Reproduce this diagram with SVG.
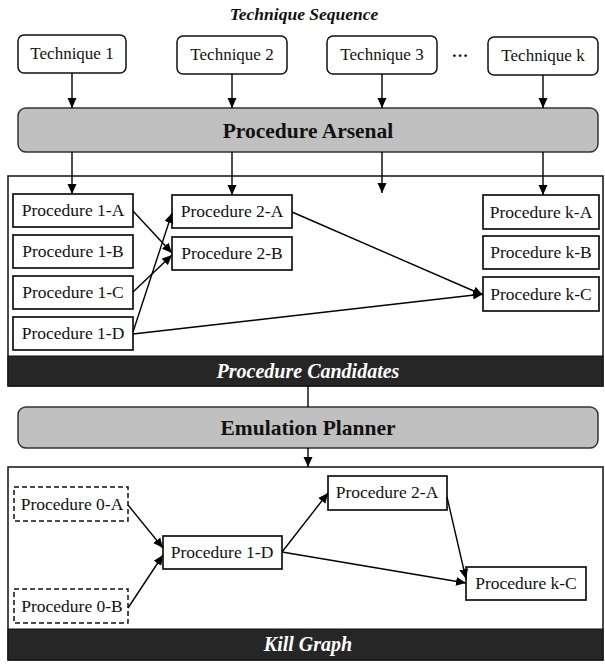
<svg xmlns="http://www.w3.org/2000/svg" width="605" height="665" viewBox="0 0 605 665">
<style>
text{font-family:"Liberation Serif","Times New Roman",serif;fill:#111;}
.lbl{font-size:17px;text-anchor:middle;}
.plbl{font-size:17.5px;text-anchor:middle;}
.big{font-size:21.5px;font-weight:bold;text-anchor:middle;}
.band{font-size:20px;font-weight:bold;font-style:italic;text-anchor:middle;fill:#fff;}
.title{font-size:17.5px;font-weight:bold;font-style:italic;text-anchor:middle;}
.tech{fill:#fff;stroke:#111;stroke-width:1.5;}
.proc{fill:#fff;stroke:#111;stroke-width:1.7;}
.dash{fill:#fff;stroke:#111;stroke-width:1.5;stroke-dasharray:5,3;}
.gray{fill:#c0c0c0;stroke:#333;stroke-width:1.5;}
.cont{fill:#fff;stroke:#111;stroke-width:1.5;}
.dark{fill:#262626;stroke:#111;stroke-width:1;}
.edge{fill:none;stroke:#000;stroke-width:1.4;}
.arr{marker-end:url(#ah);}
</style>
<defs>
<marker id="ah" markerUnits="userSpaceOnUse" markerWidth="10" markerHeight="10" viewBox="0 0 10 10" refX="10" refY="5" orient="auto">
<path d="M0,0.5 L10,5 L0,9.5 z" fill="#000"/>
</marker>
</defs>
<text class="title" x="304" y="20">Technique Sequence</text>

<g id="tech1"><rect class="tech" x="18" y="35" width="108" height="38" rx="6"/><text class="lbl" x="72" y="59">Technique 1</text></g>
<g id="tech2"><rect class="tech" x="177" y="36" width="110" height="38" rx="6"/><text class="lbl" x="232" y="60">Technique 2</text></g>
<g id="tech3"><rect class="tech" x="327" y="36" width="110" height="38" rx="6"/><text class="lbl" x="382" y="60">Technique 3</text></g>
<text class="lbl" x="460" y="61" style="font-weight:bold">···</text>
<g id="techk"><rect class="tech" x="488" y="37" width="110" height="38" rx="6"/><text class="lbl" x="543" y="61">Technique k</text></g>

<g id="arsenal"><rect class="gray" x="18" y="108" width="580" height="44" rx="8"/><text class="big" x="308" y="138">Procedure Arsenal</text></g>

<g id="candidates">
<rect class="cont" x="8" y="176" width="595" height="210"/>
<rect class="dark" x="8" y="356" width="595" height="30"/>
<text class="band" x="308" y="378">Procedure Candidates</text>
</g>

<g id="p1A"><rect class="proc" x="13" y="194" width="120" height="33"/><text class="plbl" x="73" y="216">Procedure 1-A</text></g>
<g id="p1B"><rect class="proc" x="13" y="235" width="120" height="33"/><text class="plbl" x="73" y="257">Procedure 1-B</text></g>
<g id="p1C"><rect class="proc" x="13" y="276" width="120" height="33"/><text class="plbl" x="73" y="298">Procedure 1-C</text></g>
<g id="p1D"><rect class="proc" x="13" y="317" width="120" height="33"/><text class="plbl" x="73" y="339">Procedure 1-D</text></g>
<g id="p2A"><rect class="proc" x="172" y="195" width="120" height="33"/><text class="plbl" x="232" y="217">Procedure 2-A</text></g>
<g id="p2B"><rect class="proc" x="172" y="237" width="120" height="33"/><text class="plbl" x="232" y="259">Procedure 2-B</text></g>
<g id="pkA"><rect class="proc" x="483" y="195" width="116" height="34"/><text class="plbl" x="541" y="218">Procedure k-A</text></g>
<g id="pkB"><rect class="proc" x="483" y="236" width="116" height="33"/><text class="plbl" x="541" y="258">Procedure k-B</text></g>
<g id="pkC"><rect class="proc" x="483" y="277" width="116" height="34"/><text class="plbl" x="541" y="300">Procedure k-C</text></g>

<g id="planner"><rect class="gray" x="18" y="407" width="580" height="41" rx="8"/><text class="big" x="308" y="435">Emulation Planner</text></g>

<g id="killgraph">
<rect class="cont" x="8" y="467" width="595" height="193"/>
<rect class="dark" x="8" y="629" width="595" height="31"/>
<text class="band" x="308" y="651">Kill Graph</text>
</g>

<g id="k0A"><rect class="dash" x="14" y="487" width="114" height="34"/><text class="plbl" x="72" y="510">Procedure 0-A</text></g>
<g id="k0B"><rect class="dash" x="14" y="589" width="114" height="34"/><text class="plbl" x="72" y="612">Procedure 0-B</text></g>
<g id="k1D"><rect class="proc" x="163" y="536" width="119" height="33"/><text class="plbl" x="222" y="558">Procedure 1-D</text></g>
<g id="k2A"><rect class="proc" x="328" y="476" width="119" height="34"/><text class="plbl" x="387" y="498">Procedure 2-A</text></g>
<g id="kkC"><rect class="proc" x="466" y="567" width="120" height="33"/><text class="plbl" x="526" y="589">Procedure k-C</text></g>

<g id="connectors">
<line class="edge arr" x1="72" y1="73" x2="72" y2="108"/>
<line class="edge arr" x1="232" y1="74" x2="232" y2="108"/>
<line class="edge arr" x1="382" y1="74" x2="382" y2="108"/>
<line class="edge arr" x1="543" y1="75" x2="543" y2="108"/>
<line class="edge arr" x1="72" y1="152" x2="72" y2="194"/>
<line class="edge arr" x1="232" y1="152" x2="232" y2="195"/>
<line class="edge arr" x1="382" y1="152" x2="382" y2="193"/>
<line class="edge arr" x1="543" y1="152" x2="543" y2="195"/>
<line class="edge arr" x1="133" y1="211" x2="172" y2="253"/>
<line class="edge arr" x1="133" y1="292" x2="172" y2="255"/>
<line class="edge arr" x1="133" y1="332" x2="172" y2="213"/>
<line class="edge arr" x1="292" y1="212" x2="483" y2="295"/>
<line class="edge arr" x1="133" y1="334" x2="483" y2="294"/>
<line class="edge" x1="308" y1="386" x2="308" y2="407"/>
<line class="edge arr" x1="308" y1="448" x2="308" y2="467"/>
<line class="edge arr" x1="128" y1="505" x2="163" y2="548"/>
<line class="edge arr" x1="128" y1="608" x2="163" y2="555"/>
<line class="edge arr" x1="282" y1="552" x2="328" y2="493"/>
<line class="edge arr" x1="282" y1="552" x2="466" y2="583"/>
<line class="edge arr" x1="447" y1="497" x2="466" y2="579"/>
</g>
</svg>
